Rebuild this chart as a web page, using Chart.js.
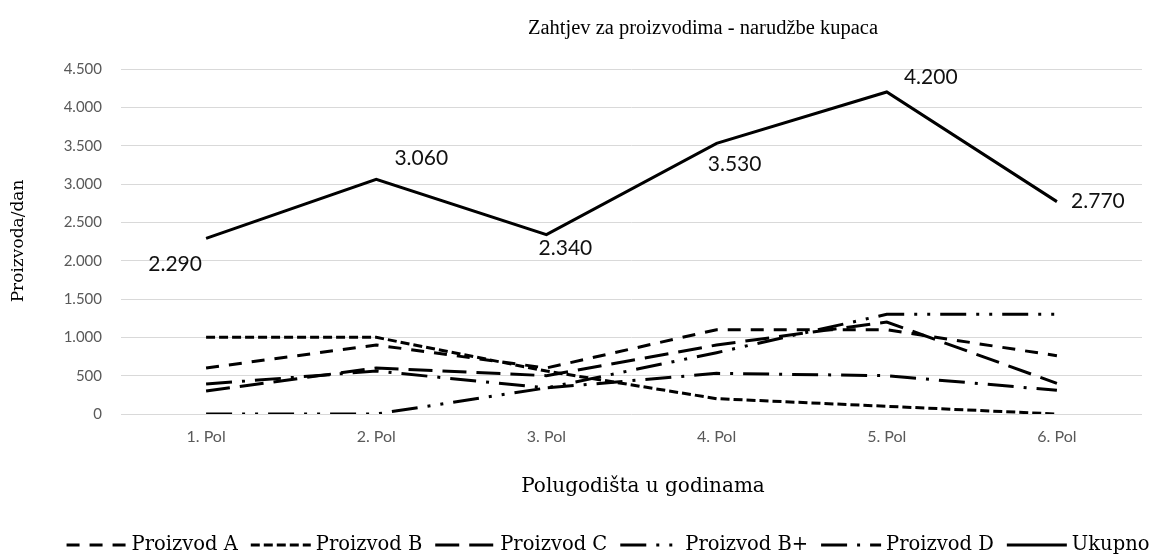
<!DOCTYPE html>
<html>
<head>
<meta charset="utf-8">
<script src="https://cdn.jsdelivr.net/npm/chart.js@4/dist/chart.umd.min.js"></script>
<style>
  html, body { margin: 0; padding: 0; background: #fff; }
  #wrap { width: 1158px; height: 556px; }
</style>
</head>
<body>
<div id="wrap"><canvas id="c" width="1158" height="556"></canvas></div>
<script>
// Half-year periods on the x axis
const categories = ['1. Pol', '2. Pol', '3. Pol', '4. Pol', '5. Pol', '6. Pol'];

// Daily demand per product (units/day)
const proizvodA     = [600, 900, 600, 1100, 1100, 760];
const proizvodB     = [1000, 1000, 560, 200, 100, 0];
const proizvodC     = [300, 600, 500, 900, 1200, 400];
const proizvodBplus = [0, 0, 340, 800, 1300, 1300];
const proizvodD     = [390, 560, 340, 530, 500, 310];
const ukupno        = [2290, 3060, 2340, 3530, 4200, 2770];

// Value axis ticks
const yTicks = [0, 500, 1000, 1500, 2000, 2500, 3000, 3500, 4000, 4500];

const seriesNames = ['Proizvod A', 'Proizvod B', 'Proizvod C', 'Proizvod B+', 'Proizvod D', 'Ukupno'];
const seriesData  = [proizvodA, proizvodB, proizvodC, proizvodBplus, proizvodD, ukupno];
const seriesDash  = [[13, 10], [9, 4], [24, 10], [26, 10, 3, 10, 3, 10], [26, 10, 3, 10], []];

const fmt = v => String(v).replace(/\B(?=(\d{3})+(?!\d))/g, '.');

const SERIF = '"DejaVu Serif", "Liberation Serif", serif';
const SERIF_NARROW = '"Liberation Serif", "DejaVu Serif", serif';
const SANS = 'Lato, "Open Sans", sans-serif';

// Offsets of the total-value labels relative to their points
const totalLabelOffsets = [[-31, 26], [45, -21], [19, 14], [18, 21], [44, -15], [41, 0]];

const decorations = {
  id: 'decorations',
  afterDraw(chart) {
    const ctx = chart.ctx;
    ctx.save();

    // Title
    ctx.fillStyle = '#000';
    ctx.font = '20.5px ' + SERIF_NARROW;
    ctx.textAlign = 'center';
    ctx.textBaseline = 'middle';
    ctx.fillText('Zahtjev za proizvodima - narudžbe kupaca', 703, 29);

    // Axis titles
    ctx.font = '20px ' + SERIF;
    ctx.fillText('Polugodišta u godinama', 643, 487);
    ctx.save();
    ctx.translate(19, 241);
    ctx.rotate(-Math.PI / 2);
    ctx.font = '17px ' + SERIF;
    ctx.fillText('Proizvoda/dan', 0, 0);
    ctx.restore();

    // Total value labels
    const meta = chart.getDatasetMeta(5);
    ctx.font = '21px ' + SANS;
    ctx.fillStyle = '#111';
    meta.data.forEach((pt, i) => {
      const [dx, dy] = totalLabelOffsets[i];
      ctx.fillText(fmt(ukupno[i]), pt.x + dx, pt.y + dy);
    });

    // Legend: line sample followed by series name
    ctx.font = '19.5px ' + SERIF;
    ctx.textAlign = 'left';
    const sampleLen = 60, sampleGap = 5, itemGap = 13;
    const widths = seriesNames.map(n => sampleLen + sampleGap + ctx.measureText(n).width);
    const total = widths.reduce((a, b) => a + b, 0) + itemGap * (widths.length - 1);
    let x = 608 - total / 2;
    const y = 545;
    seriesNames.forEach((name, i) => {
      ctx.beginPath();
      ctx.setLineDash(seriesDash[i]);
      ctx.lineWidth = 3;
      ctx.strokeStyle = '#000';
      ctx.lineCap = 'butt';
      ctx.moveTo(x, y);
      ctx.lineTo(x + sampleLen, y);
      ctx.stroke();
      ctx.setLineDash([]);
      ctx.fillStyle = '#000';
      ctx.fillText(name, x + sampleLen + sampleGap, y);
      x += widths[i] + itemGap;
    });
    ctx.restore();
  }
};

new Chart(document.getElementById('c'), {
  type: 'line',
  data: {
    labels: categories,
    datasets: seriesNames.map((name, i) => ({
      label: name,
      data: seriesData[i],
      borderColor: '#000',
      backgroundColor: '#000',
      borderWidth: 3,
      borderDash: seriesDash[i],
      borderCapStyle: 'butt',
      pointRadius: 0,
      tension: 0,
      fill: false
    }))
  },
  options: {
    responsive: false,
    animation: false,
    layout: { padding: { top: 69, right: 16, left: 0, bottom: 0 } },
    plugins: {
      legend: { display: false },
      title: { display: false },
      tooltip: { enabled: false }
    },
    scales: {
      x: {
        offset: true,
        grid: { display: false, drawTicks: false },
        border: { display: false },
        ticks: { color: '#595959', font: { family: SANS, size: 16 }, padding: 13 },
        afterFit: s => { s.height = 142; }
      },
      y: {
        min: 0,
        max: 4500,
        afterBuildTicks: s => { s.ticks = yTicks.map(v => ({ value: v })); },
        grid: { color: '#d9d9d9', lineWidth: 1, drawTicks: false },
        border: { display: false },
        ticks: { color: '#595959', font: { family: SANS, size: 15 }, padding: 19, callback: v => fmt(v) },
        afterFit: s => { s.width = 121; }
      }
    }
  },
  plugins: [decorations]
});
</script>
</body>
</html>
